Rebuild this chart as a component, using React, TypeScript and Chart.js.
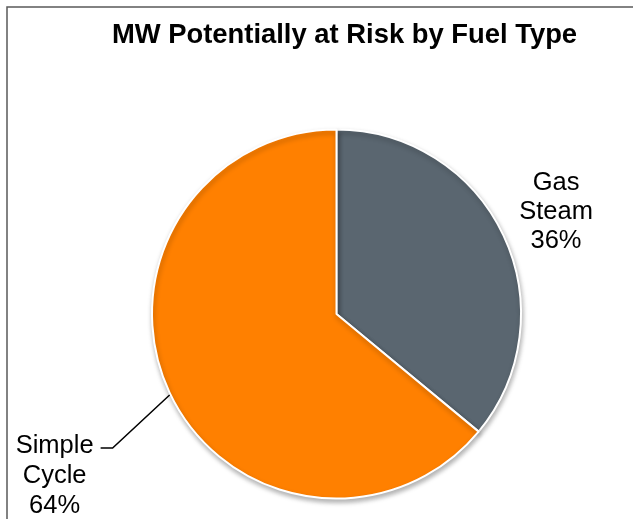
import React, { useEffect, useRef } from "react";
import { Chart, registerables } from "chart.js";

Chart.register(...registerables);

const categories = ["Gas Steam", "Simple Cycle"];
const shares = [36, 64];
const colors = ["#5A6670", "#FF8000"];
const labelLines = [
  ["Gas", "Steam", "36%"],
  ["Simple", "Cycle", "64%"],
];
const title = "MW Potentially at Risk by Fuel Type";

const FONT = "'Liberation Sans', Arial, Helvetica, sans-serif";

const decorPlugin = {
  id: "decor",
  beforeDatasetsDraw(chart: any) {
    const ctx = chart.ctx;
    ctx.save();
    ctx.shadowColor = "rgba(0,0,0,0.3)";
    ctx.shadowBlur = 5;
    ctx.shadowOffsetX = 1;
    ctx.shadowOffsetY = 3;
  },
  afterDatasetsDraw(chart: any) {
    const ctx = chart.ctx;
    ctx.restore();
    // frame
    ctx.save();
    ctx.strokeStyle = "#5a5a5a";
    ctx.lineWidth = 1.5;
    ctx.strokeRect(7, 7, chart.width + 20, chart.height + 20);
    ctx.restore();

    // title
    ctx.save();
    ctx.fillStyle = "#000";
    ctx.font = `bold 27.4px ${FONT}`;
    ctx.textAlign = "center";
    ctx.textBaseline = "alphabetic";
    ctx.fillText(title, 344.5, 43);
    ctx.restore();

    const meta = chart.getDatasetMeta(0);
    ctx.save();
    ctx.fillStyle = "#000";
    ctx.font = `25.5px ${FONT}`;
    ctx.textAlign = "center";
    ctx.textBaseline = "alphabetic";
    meta.data.forEach((arc: any, i: number) => {
      const p = arc.getProps(["x", "y", "startAngle", "endAngle", "outerRadius"], true);
      const mid = (p.startAngle + p.endAngle) / 2;
      const lines = labelLines[i];
      if (i === 0) {
        const d = p.outerRadius * 1.315;
        const cx = p.x + Math.cos(mid) * d;
        const cy = p.y + Math.sin(mid) * d;
        lines.forEach((t, k) => ctx.fillText(t, cx, cy - 20 + (k - 1) * 29 + 28));
      } else {
        const ex = p.x + Math.cos(mid - 0.012) * (p.outerRadius + 1);
        const ey = p.y + Math.sin(mid - 0.012) * (p.outerRadius + 1);
        const bx = ex - 57;
        const by = ey + 53;
        ctx.save();
        ctx.strokeStyle = "#000";
        ctx.lineWidth = 1.5;
        ctx.beginPath();
        ctx.moveTo(ex, ey);
        ctx.lineTo(bx, by);
        ctx.lineTo(bx - 12, by);
        ctx.stroke();
        ctx.restore();
        const tx = bx - 58;
        lines.forEach((t, k) => ctx.fillText(t, tx, by + 5 + k * 30));
      }
    });
    ctx.restore();
  },
};

export default function App() {
  const ref = useRef<HTMLCanvasElement | null>(null);
  useEffect(() => {
    if (!ref.current) return;
    const chart = new Chart(ref.current, {
      type: "pie",
      data: {
        labels: categories,
        datasets: [
          {
            data: shares,
            backgroundColor: colors,
            borderColor: "#ffffff",
            borderWidth: 2,
          },
        ],
      },
      options: {
        animation: false,
        responsive: false,
        maintainAspectRatio: false,
        layout: { padding: { left: 151, right: 111, top: 128, bottom: 19 } },
        plugins: {
          legend: { display: false },
          title: { display: false },
          tooltip: { enabled: false },
        },
      },
      plugins: [decorPlugin],
    });
    return () => chart.destroy();
  }, []);
  return (
    <div style={{ position: "absolute", left: 0, top: 0, width: 633, height: 519, background: "#fff" }}>
      <canvas ref={ref} width={633} height={519} style={{ display: "block", width: 633, height: 519 }} />
    </div>
  );
}
